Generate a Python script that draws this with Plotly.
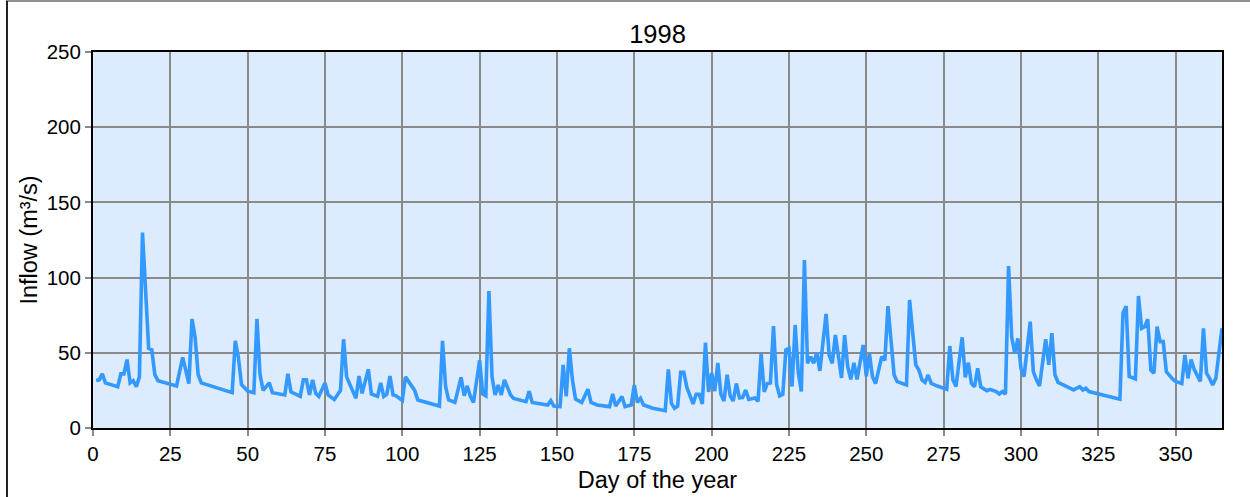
import plotly.graph_objects as go

# Daily inflow for 1998 (day of year -> m³/s), turning points of the hydrograph
days = [1, 2, 3, 4, 8, 9, 10, 11, 12, 13, 14, 15, 16, 18, 19, 20, 21, 27, 29, 31,
        32, 33, 34, 35, 45, 46, 47, 48, 50, 52, 53, 54, 55, 57, 58, 62, 63, 64, 67, 68,
        69, 70, 71, 72, 73, 75, 76, 78, 80, 81, 82, 84, 85, 86, 87, 89, 90, 92, 93, 94,
        95, 96, 97, 98, 100, 101, 102, 104, 105, 112, 113, 114, 115, 117, 119, 120, 121, 122, 123, 125,
        126, 127, 128, 129, 130, 131, 132, 133, 135, 136, 140, 141, 142, 147, 148, 149, 151, 152, 153, 154,
        155, 156, 158, 160, 161, 163, 167, 168, 169, 171, 172, 174, 175, 176, 177, 178, 181, 185, 186, 187,
        188, 189, 190, 191, 192, 194, 195, 196, 197, 198, 199, 200, 201, 202, 203, 204, 205, 206, 207, 208,
        209, 210, 211, 212, 214, 215, 216, 217, 218, 219, 220, 221, 222, 223, 224, 225, 226, 227, 228, 229,
        230, 231, 232, 233, 234, 235, 237, 238, 239, 240, 242, 243, 244, 245, 246, 247, 249, 250, 251, 252,
        253, 255, 256, 257, 259, 260, 263, 264, 266, 267, 268, 269, 270, 271, 273, 276, 277, 278, 279, 281,
        282, 283, 284, 285, 286, 287, 289, 290, 292, 293, 294, 295, 296, 297, 298, 299, 300, 301, 303, 304,
        305, 306, 308, 309, 310, 311, 312, 314, 316, 317, 319, 320, 321, 322, 325, 328, 330, 332, 333, 334,
        335, 337, 338, 339, 340, 341, 342, 343, 344, 345, 346, 347, 349, 350, 352, 353, 354, 355, 356, 358,
        359, 360, 361, 362, 363, 365]
inflow = [31.5, 32, 36, 30, 27.5, 36, 36, 45.5, 30, 31.5, 27.5, 34, 130, 53, 52, 35.5, 31.5, 28, 47, 29.5,
          72.5, 60.5, 35.5, 30, 23.5, 58, 47, 29, 24.5, 23.5, 72.5, 35.5, 25, 30, 23.5, 22, 36, 24, 21, 32,
          32, 22, 32, 23, 21, 30, 22, 19, 25, 59, 34, 24, 19.7, 34.5, 23, 39, 22.6, 21, 30, 21,
          22.5, 34.5, 22, 21.4, 18.3, 34, 31, 25, 18.6, 14.6, 58, 27.5, 18.6, 17, 33.7, 21.4, 28, 21, 17, 45,
          22.6, 21.4, 91, 34, 22, 28.5, 22, 32, 22, 19.7, 17.5, 24.5, 17, 15.3, 18.2, 14.6, 14.2, 42, 21, 53,
          32, 19.2, 17, 25.8, 17, 15.3, 14.2, 22.6, 14.6, 21, 14.2, 15.3, 28.5, 17, 19.7, 15.3, 13.1, 11.5, 39, 16.4,
          13.1, 14.5, 37, 37, 27, 16, 22.4, 22.4, 16, 56.7, 24, 36.6, 24.5, 43.3, 22.4, 18, 35.4, 21.3, 18, 29.6,
          20, 20.2, 25.3, 19, 20, 17.7, 49.2, 24, 29.6, 30, 67.8, 29, 21.3, 22.4, 52, 53, 27.6, 68.5, 37, 24.3,
          111.7, 43, 47.4, 43, 50, 38, 75.8, 48.5, 43, 61.8, 33.3, 61.8, 40.7, 32.3, 43.4, 32.3, 55.2, 34.4, 49.6, 34,
          29.6, 47.4, 45, 81, 35.2, 30.8, 28.6, 85.1, 41.9, 38.6, 32, 30.3, 35.2, 29.6, 27.9, 25.7, 54.5, 32, 27.6, 60.3,
          33.7, 43.4, 29.6, 27.4, 39.7, 27.4, 24.8, 25.7, 24.2, 22.6, 24.2, 22.6, 107.7, 60.7, 49.6, 59.6, 39.7, 34.2, 70.7, 37.5,
          32, 28, 59, 42, 63, 35.4, 30.3, 28.6, 26.4, 25.3, 27.5, 25.3, 26.4, 24.2, 22.6, 21.3, 20.4, 19.1, 76.7, 81,
          34.3, 32.6, 87.8, 66.3, 67.4, 72.3, 38.6, 36.4, 67.4, 57.4, 57.4, 37.5, 32.6, 31, 29.5, 48.5, 33, 45.6, 39, 31,
          66.3, 36.4, 33, 28.6, 33, 66.3]

x_ticks = list(range(0, 351, 25))
y_ticks = list(range(0, 251, 50))

FONT = "Liberation Sans, Arial, sans-serif"
GRID = "#8a8a8a"

fig = go.Figure(
    go.Scatter(
        x=days,
        y=inflow,
        mode="lines",
        line=dict(color="#3399ff", width=3.6),
        hoverinfo="x+y",
    )
)

fig.update_layout(
    width=1250,
    height=497,
    margin=dict(l=93, r=28, t=52, b=69),
    paper_bgcolor="white",
    plot_bgcolor="#dcebfd",
    showlegend=False,
    font=dict(family=FONT, color="black"),
    title=dict(
        text="1998",
        x=0.526,
        xanchor="center",
        y=1 - 34 / 497,
        yanchor="middle",
        font=dict(size=25.5, family=FONT, color="black"),
    ),
)

common_axis = dict(
    tickmode="array",
    ticks="outside",
    ticklen=6,
    tickwidth=2,
    tickcolor=GRID,
    tickfont=dict(size=20.5),
    showgrid=True,
    gridcolor=GRID,
    gridwidth=2,
    zeroline=False,
    showline=True,
    linecolor="black",
    linewidth=2,
    mirror=True,
    automargin=False,
)

fig.update_xaxes(
    range=[0, 365],
    tickvals=x_ticks,
    ticktext=[str(t) for t in x_ticks],
    title=dict(text="Day of the year", font=dict(size=23.5), standoff=8),
    **common_axis,
)

fig.update_yaxes(
    range=[0, 250],
    tickvals=y_ticks,
    ticktext=[str(t) for t in y_ticks],
    title=dict(text="Inflow (m³/s)", font=dict(size=23.5), standoff=2),
    **common_axis,
)

# Page frame lines along the top and left edges of the figure
plot_w, plot_h = 1250 - 93 - 28, 497 - 52 - 69
def px_x(px):
    return (px - 93) / plot_w
def px_y(py):
    return (497 - 69 - py) / plot_h

fig.add_shape(type="line", xref="paper", yref="paper",
              x0=px_x(6), x1=px_x(1250), y0=px_y(1), y1=px_y(1),
              line=dict(color="#8f8f8f", width=2))
fig.add_shape(type="line", xref="paper", yref="paper",
              x0=px_x(7), x1=px_x(7), y0=px_y(1), y1=px_y(497),
              line=dict(color="#222222", width=2))

fig.write_html("out.html")
